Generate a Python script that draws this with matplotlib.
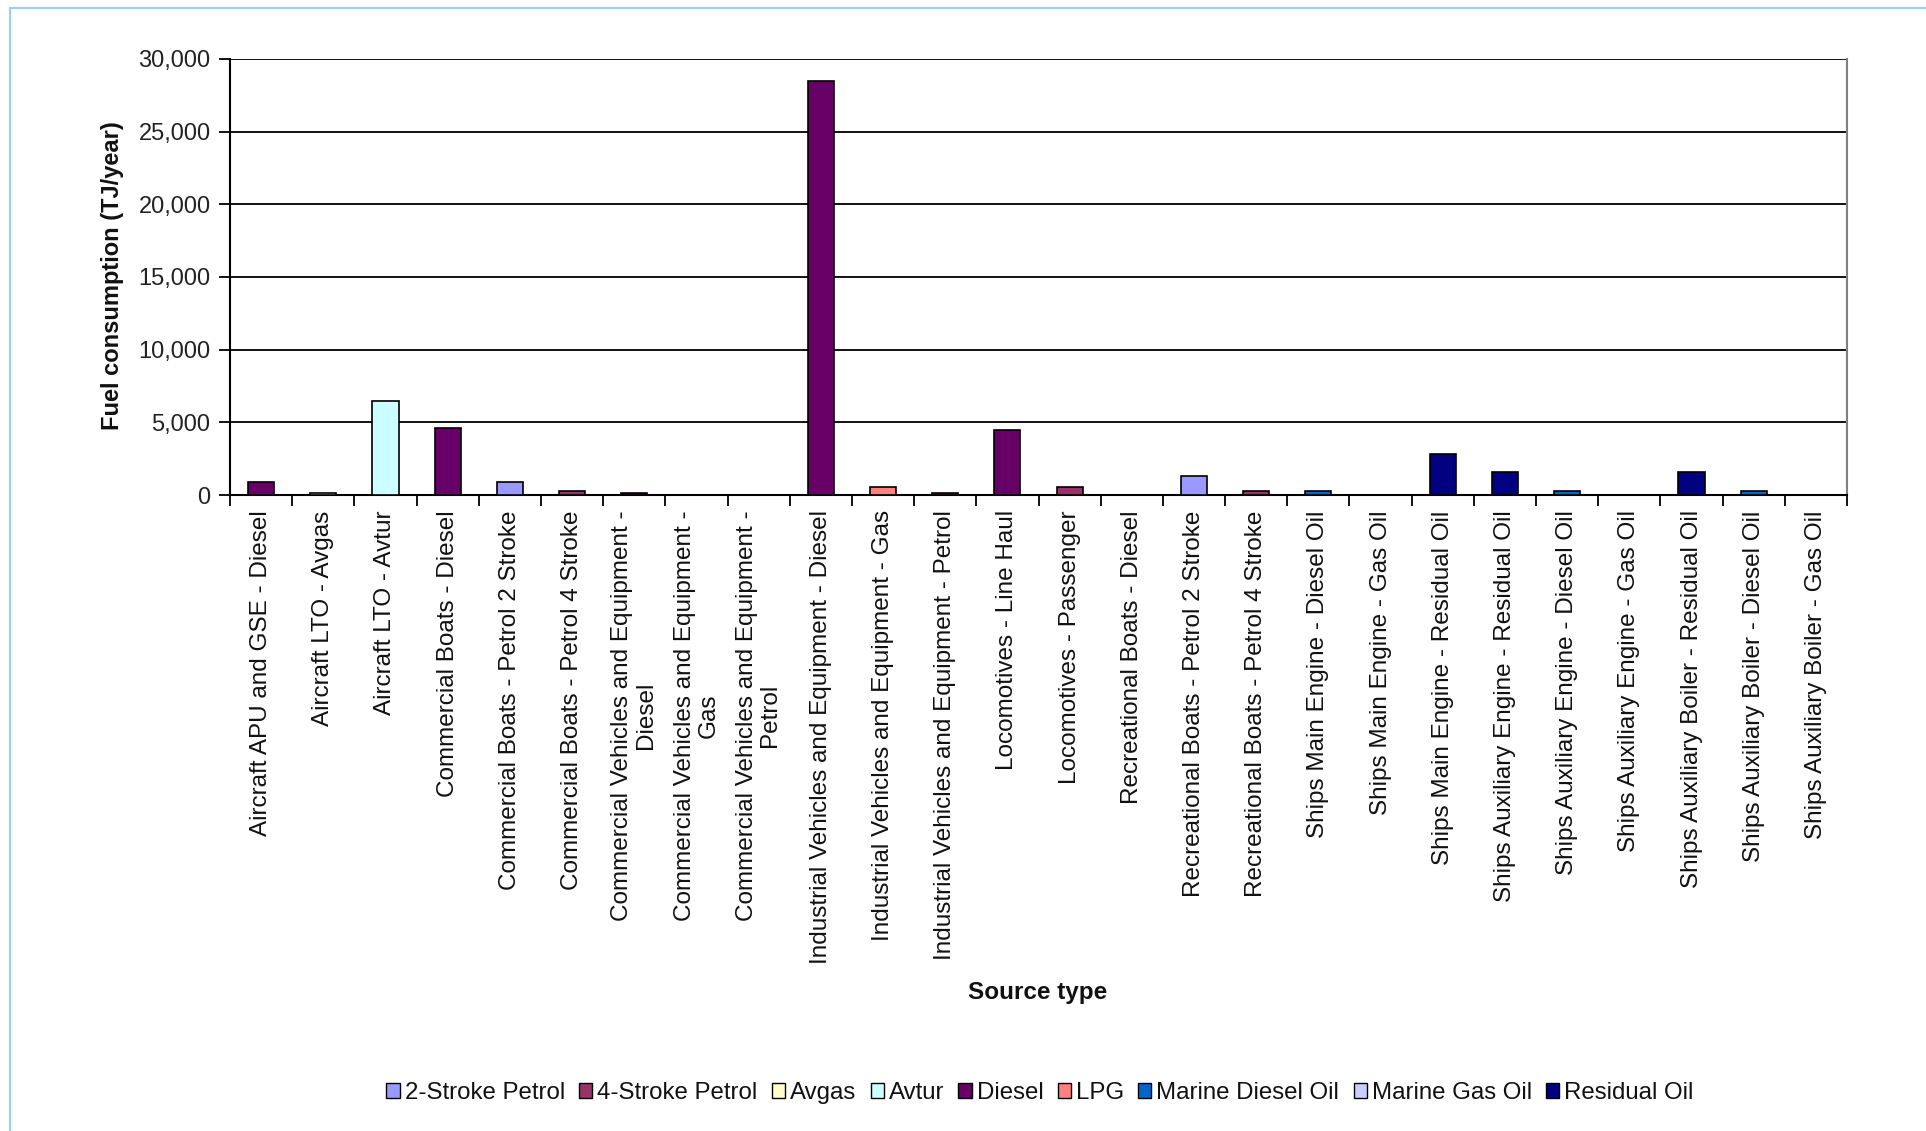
import matplotlib
matplotlib.use("Agg")
import matplotlib.pyplot as plt
from matplotlib.patches import Patch, Rectangle
from matplotlib.ticker import FuncFormatter, FixedLocator
import numpy as np

plt.rcParams['font.family'] = ['Liberation Sans', 'DejaVu Sans']

categories = [
    "Aircraft APU and GSE - Diesel",
    "Aircraft LTO - Avgas",
    "Aircraft LTO - Avtur",
    "Commercial Boats - Diesel",
    "Commercial Boats - Petrol 2 Stroke",
    "Commercial Boats - Petrol 4 Stroke",
    "Commercial Vehicles and Equipment -\nDiesel",
    "Commercial Vehicles and Equipment -\nGas",
    "Commercial Vehicles and Equipment -\nPetrol",
    "Industrial Vehicles and Equipment - Diesel",
    "Industrial Vehicles and Equipment - Gas",
    "Industrial Vehicles and Equipment - Petrol",
    "Locomotives - Line Haul",
    "Locomotives - Passenger",
    "Recreational Boats - Diesel",
    "Recreational Boats - Petrol 2 Stroke",
    "Recreational Boats - Petrol 4 Stroke",
    "Ships Main Engine - Diesel Oil",
    "Ships Main Engine - Gas Oil",
    "Ships Main Engine - Residual Oil",
    "Ships Auxiliary Engine - Residual Oil",
    "Ships Auxiliary Engine - Diesel Oil",
    "Ships Auxiliary Engine - Gas Oil",
    "Ships Auxiliary Boiler - Residual Oil",
    "Ships Auxiliary Boiler - Diesel Oil",
    "Ships Auxiliary Boiler - Gas Oil",
]

values = [900, 160, 6500, 4600, 900, 300, 160, 0, 0, 28500, 530, 160,
          4500, 530, 0, 1300, 280, 280, 0, 2850, 1550, 280, 0, 1550, 280, 0]

fuel_of_bar = ["Diesel", "Avgas", "Avtur", "Diesel", "2-Stroke Petrol",
               "4-Stroke Petrol", "Diesel", "LPG", "4-Stroke Petrol", "Diesel",
               "LPG", "4-Stroke Petrol", "Diesel", "4-Stroke Petrol", "Diesel",
               "2-Stroke Petrol", "4-Stroke Petrol", "Marine Diesel Oil",
               "Marine Gas Oil", "Residual Oil", "Residual Oil",
               "Marine Diesel Oil", "Marine Gas Oil", "Residual Oil",
               "Marine Diesel Oil", "Marine Gas Oil"]

fuels = ["2-Stroke Petrol", "4-Stroke Petrol", "Avgas", "Avtur", "Diesel",
         "LPG", "Marine Diesel Oil", "Marine Gas Oil", "Residual Oil"]
fuel_colors = ["#9999FF", "#993366", "#FFFFCC", "#CCFFFF", "#660066",
               "#FF8080", "#0066CC", "#CCCCFF", "#000080"]

W, H = 1926, 1131
fig = plt.figure(figsize=(W / 100, H / 100), dpi=100)
fig.patch.set_facecolor("white")

# outer light-blue border (top and left visible)
fig.patches.append(Rectangle((10 / W, -0.1), 1.2, 1.1 - 8 / H,
                             transform=fig.transFigure, fill=False,
                             edgecolor="#99CCFF", lw=1.5, zorder=0))

ax = fig.add_axes([230 / W, 1 - 495 / H, (1847 - 230) / W, (495 - 59) / H])

x = np.arange(len(categories))
color_map = dict(zip(fuels, fuel_colors))
for i, (v, f) in enumerate(zip(values, fuel_of_bar)):
    if v > 0:
        ax.bar(x[i], v, width=0.42, color=color_map[f], edgecolor="black",
               linewidth=1.2, zorder=3)

ax.set_xlim(-0.5, len(categories) - 0.5)
ax.set_ylim(0, 30000)
ax.set_yticks(np.arange(0, 30001, 5000))
ax.yaxis.set_major_formatter(FuncFormatter(lambda v, p: f"{int(v):,}"))
ax.yaxis.grid(True, color="black", lw=1.3, zorder=1)
ax.set_axisbelow(True)

ax.set_xticks(x)
ax.set_xticklabels(categories, rotation=90, va="top", ha="center",
                   multialignment="center", fontsize=17.5, color="#111111",
                   linespacing=1.1)
ax.tick_params(axis="x", length=0, pad=11)
ax.xaxis.set_minor_locator(FixedLocator(np.arange(-0.5, len(categories), 1.0)))
ax.tick_params(axis="x", which="minor", length=8, width=1.3, direction="out",
               color="black")
ax.tick_params(axis="y", length=8, width=1.3, direction="out", labelsize=17,
               pad=6, color="black", labelcolor="#222222")

for s in ["left", "bottom"]:
    ax.spines[s].set_color("black")
    ax.spines[s].set_linewidth(1.5)
ax.spines["top"].set_visible(False)
ax.spines["right"].set_color("#808080")
ax.spines["right"].set_linewidth(1.5)

fig.text(113 / W, 1 - 276 / H, "Fuel consumption (TJ/year)", rotation=90,
         ha="center", va="center", fontsize=17, fontweight="bold",
         color="#111111")
fig.text(1038 / W, 1 - 992 / H, "Source type", ha="center", va="center",
         fontsize=17.5, fontweight="bold", color="#111111")

handles = [Patch(facecolor=c, edgecolor="black", linewidth=1.0, label=f)
           for f, c in zip(fuels, fuel_colors)]
fig.legend(handles=handles, loc="center", bbox_to_anchor=(1040 / W, 1 - 1093 / H),
           ncol=9, frameon=False, fontsize=17.3, handlelength=0.55,
           handleheight=0.55, handletextpad=0.2, columnspacing=0.6,
           labelcolor="#111111")

fig.savefig("out.png", dpi=100, facecolor="white")
